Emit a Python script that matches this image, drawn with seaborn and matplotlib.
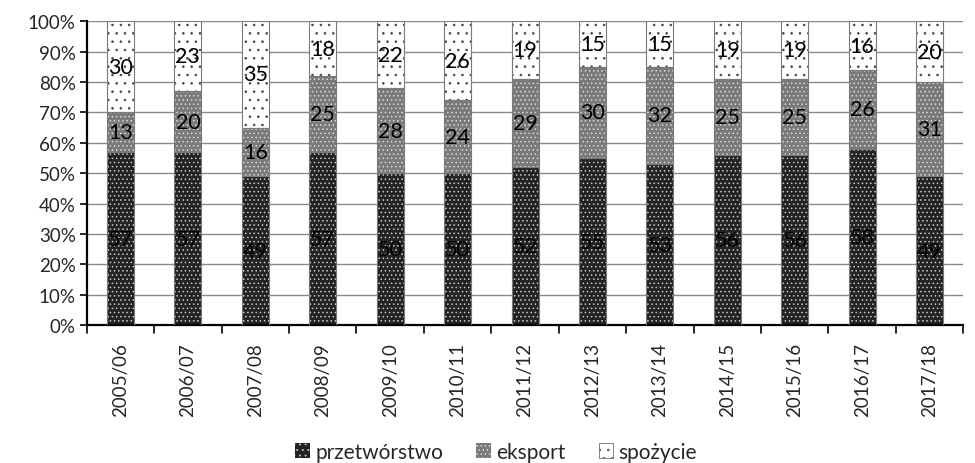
import matplotlib
matplotlib.use("Agg")
import matplotlib.pyplot as plt
import matplotlib.patches as mpatches
import numpy as np
import pandas as pd
import seaborn as sns

seasons = ["2005/06", "2006/07", "2007/08", "2008/09", "2009/10", "2010/11", "2011/12",
           "2012/13", "2013/14", "2014/15", "2015/16", "2016/17", "2017/18"]
przetworstwo = [57, 57, 49, 57, 50, 50, 52, 55, 53, 56, 56, 58, 49]
eksport = [13, 20, 16, 25, 28, 24, 29, 30, 32, 25, 25, 26, 31]
spozycie = [30, 23, 35, 18, 22, 26, 19, 15, 15, 19, 19, 16, 20]
series_names = ["przetwórstwo", "eksport", "spożycie"]
y_ticks = [0, 10, 20, 30, 40, 50, 60, 70, 80, 90, 100]

sns.set_theme(style="white")
plt.rcParams["font.family"] = ["Lato", "DejaVu Sans"]
plt.rcParams["hatch.linewidth"] = 0.6

df = pd.DataFrame({"sezon": seasons, "p": przetworstwo, "e": eksport, "s": spozycie})
df["pe"] = df["p"] + df["e"]
df["pes"] = df["pe"] + df["s"]

fig = plt.figure(figsize=(9.75, 4.64), dpi=100)
ax = fig.add_axes([0.089, 0.297, 0.899, 0.655])

BW = 0.4
# layer styles: (column, facecolor, hatch, hatch colour)
layers = [
    ("pes", "white", "..", "#444444"),
    ("pe", "#7a7a7a", "....", "#d8d8d8"),
    ("p", "#232323", "....", "#c8c8c8"),
]
for col, fc, hatch, hc in layers:
    sns.barplot(data=df, x="sezon", y=col, ax=ax, color=fc, width=BW,
                saturation=1, errorbar=None, zorder=2)
n_per = len(seasons)
for i, (col, fc, hatch, hc) in enumerate(layers):
    for p in ax.patches[i * n_per:(i + 1) * n_per]:
        p.set_facecolor(fc)
        p.set_hatch(hatch)
        p.set_edgecolor(hc)
        p.set_linewidth(0)

# thin outlines around each segment
x = np.arange(len(seasons))
ax.bar(x, df["p"], width=BW, fill=False, edgecolor="#7a7a7a", linewidth=0.8, zorder=3)
ax.bar(x, df["e"], bottom=df["p"], width=BW, fill=False, edgecolor="#7a7a7a", linewidth=0.8, zorder=3)
ax.bar(x, df["s"], bottom=df["pe"], width=BW, fill=False, edgecolor="#7a7a7a", linewidth=0.8, zorder=3)

# value labels centred in each segment
for xi in range(len(seasons)):
    for bottom, val in [(0, przetworstwo[xi]), (przetworstwo[xi], eksport[xi]),
                        (przetworstwo[xi] + eksport[xi], spozycie[xi])]:
        ax.text(xi, bottom + val / 2, f"{val}", ha="center", va="center",
                fontsize=15.5, color="black", zorder=4)

ax.set_xlim(-0.5, len(seasons) - 0.5)
ax.set_ylim(0, 100)
ax.set_yticks(y_ticks)
ax.set_yticklabels([f"{t}%" for t in y_ticks], fontsize=13.5)
ax.set_xlabel("")
ax.set_ylabel("")
ax.set_xticks(np.arange(len(seasons)))
ax.set_xticklabels(seasons, rotation=90, fontsize=13.5)
ax.tick_params(axis="x", length=0, pad=12)
ax.tick_params(axis="y", length=5, direction="out", color="black", width=1.2, left=True, pad=3)

# category boundary ticks on the x axis
for b in np.arange(-0.5, len(seasons), 1.0):
    ax.plot([b, b], [0, -2.5], color="black", lw=1.2, clip_on=False, zorder=5)

ax.grid(axis="y", color="#8a8a8a", linewidth=1.0, zorder=0)
ax.set_axisbelow(True)
for side in ["top", "right"]:
    ax.spines[side].set_visible(False)
for side in ["left", "bottom"]:
    ax.spines[side].set_color("black")
    ax.spines[side].set_linewidth(1.6)

handles = [
    mpatches.Patch(facecolor=layers[2][1], hatch="...", edgecolor=layers[2][3], linewidth=0),
    mpatches.Patch(facecolor=layers[1][1], hatch="....", edgecolor=layers[1][3], linewidth=0),
    mpatches.Patch(facecolor="white", hatch="..", edgecolor="#555555", linewidth=0.5),
]
fig.legend(handles, series_names, loc="lower center", bbox_to_anchor=(0.509, -0.038),
           ncol=3, frameon=False, fontsize=15, handlelength=0.7, handleheight=0.7,
           handletextpad=0.25, columnspacing=1.6)

fig.savefig("out.png", dpi=100)
